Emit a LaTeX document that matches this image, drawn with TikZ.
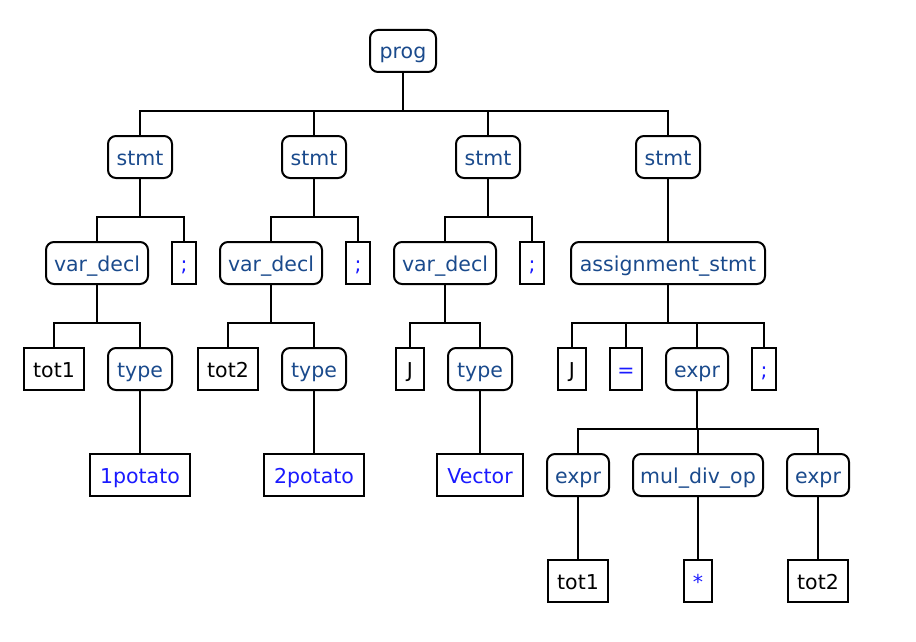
\documentclass[tikz,border=0pt]{standalone}
\usepackage{fontspec}
\setmainfont{DejaVu Sans}
\definecolor{ruleblue}{RGB}{26,74,140}
\definecolor{termblue}{RGB}{26,26,255}
\newcommand\treeedge[2]{\draw[edgeline] (#1.south) -- ++(0,38) -| (#2.north);}
\begin{document}
\begin{tikzpicture}[x=1pt,y=-1pt,
  base/.style={draw, line width=2pt, minimum height=42pt, inner sep=0pt,
    text height=18pt, text depth=2pt, font=\fontsize{20.5}{24}\selectfont},
  rulebox/.style={base, rounded corners=8pt, text=ruleblue, minimum width=#1},
  termbox/.style={base, text=termblue, minimum width=#1},
  idbox/.style={base, text=black, minimum width=#1},
  edgeline/.style={line width=2pt}]
\path[use as bounding box] (0,0) rectangle (916,642);
% level 0
\node[rulebox=66] (prog) at (403,51) {prog};
% level 1
\node[rulebox=64] (s1) at (140,157) {stmt};
\node[rulebox=64] (s2) at (314,157) {stmt};
\node[rulebox=64] (s3) at (488,157) {stmt};
\node[rulebox=64] (s4) at (668,157) {stmt};
% level 2
\node[rulebox=102] (vd1) at (97,263) {var\_decl};
\node[termbox=24] (sc1) at (184,263) {;};
\node[rulebox=102] (vd2) at (271,263) {var\_decl};
\node[termbox=24] (sc2) at (358,263) {;};
\node[rulebox=102] (vd3) at (445,263) {var\_decl};
\node[termbox=24] (sc3) at (532,263) {;};
\node[rulebox=194] (as) at (668,263) {assignment\_stmt};
% level 3
\node[idbox=60] (tota) at (54,369) {tot1};
\node[rulebox=64] (ty1) at (140,369) {type};
\node[idbox=60] (totb) at (228,369) {tot2};
\node[rulebox=64] (ty2) at (314,369) {type};
\node[idbox=28] (ja) at (410,369) {J};
\node[rulebox=64] (ty3) at (480,369) {type};
\node[idbox=28] (jb) at (572,369) {J};
\node[termbox=32] (eq) at (626,369) {=};
\node[rulebox=62] (ex) at (697,369) {expr};
\node[termbox=24] (sc4) at (764,369) {;};
% level 4
\node[termbox=100] (p1) at (140,475) {1potato};
\node[termbox=100] (p2) at (314,475) {2potato};
\node[termbox=86] (vec) at (480,475) {Vector};
\node[rulebox=62] (ex1) at (578,475) {expr};
\node[rulebox=130] (mdo) at (698,475) {mul\_div\_op};
\node[rulebox=62] (ex2) at (818,475) {expr};
% level 5
\node[idbox=60] (totc) at (578,581) {tot1};
\node[termbox=28] (star) at (698,581) {*};
\node[idbox=60] (totd) at (818,581) {tot2};
% edges
\treeedge{prog}{s1}
\treeedge{prog}{s2}
\treeedge{prog}{s3}
\treeedge{prog}{s4}
\treeedge{s1}{vd1}
\treeedge{s1}{sc1}
\treeedge{s2}{vd2}
\treeedge{s2}{sc2}
\treeedge{s3}{vd3}
\treeedge{s3}{sc3}
\treeedge{s4}{as}
\treeedge{vd1}{tota}
\treeedge{vd1}{ty1}
\treeedge{vd2}{totb}
\treeedge{vd2}{ty2}
\treeedge{vd3}{ja}
\treeedge{vd3}{ty3}
\treeedge{as}{jb}
\treeedge{as}{eq}
\treeedge{as}{ex}
\treeedge{as}{sc4}
\treeedge{ty1}{p1}
\treeedge{ty2}{p2}
\treeedge{ty3}{vec}
\treeedge{ex}{ex1}
\treeedge{ex}{mdo}
\treeedge{ex}{ex2}
\treeedge{ex1}{totc}
\treeedge{mdo}{star}
\treeedge{ex2}{totd}
\end{tikzpicture}
\end{document}
